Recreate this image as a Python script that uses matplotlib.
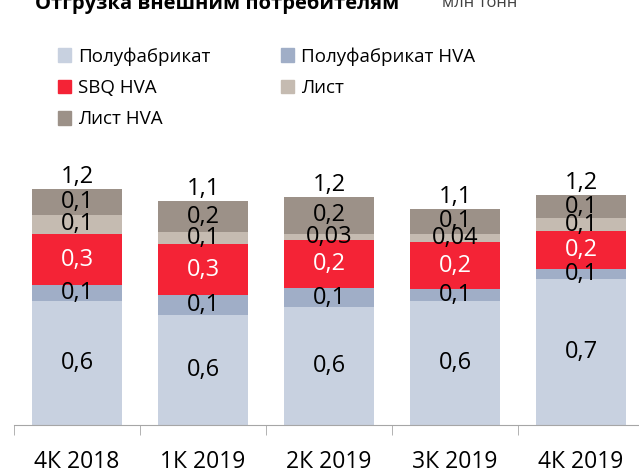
import numpy as np
import matplotlib
matplotlib.use("Agg")
import matplotlib.pyplot as plt
from matplotlib.patches import Patch

plt.rcParams['font.family'] = ['Open Sans', 'DejaVu Sans']

categories = ['4К 2018', '1К 2019', '2К 2019', '3К 2019', '4К 2019']
series_names = ['Полуфабрикат', 'Полуфабрикат HVA', 'SBQ HVA', 'Лист', 'Лист HVA']
polufabrikat = [0.63, 0.56, 0.60, 0.63, 0.74]
polufabrikat_hva = [0.08, 0.10, 0.096, 0.06, 0.055]
sbq_hva = [0.26, 0.26, 0.245, 0.24, 0.19]
list_ = [0.10, 0.06, 0.03, 0.04, 0.066]
list_hva = [0.13, 0.16, 0.19, 0.13, 0.12]

colors = ['#C8D1E0', '#A0AEC7', '#F42336', '#C5BBB1', '#9C9188']
label_colors = ['black', 'black', 'white', 'black', 'black']

def fmt(v):
    s = '%.2f' % v if v < 0.05 else '%.1f' % v
    return s.replace('.', ',')

fig = plt.figure(figsize=(6.39, 4.68), dpi=100)
ax = fig.add_axes([14 / 639, 43 / 468, 1 - 14 / 639, 295 / 468])

data = [polufabrikat, polufabrikat_hva, sbq_hva, list_, list_hva]
x = np.arange(len(categories))
bottom = np.zeros(len(categories))
handles = []
for vals, name, c, lc in zip(data, series_names, colors, label_colors):
    vals = np.array(vals)
    ax.bar(x, vals, 0.71, bottom=bottom, color=c, label=name)
    for xi, b, v in zip(x, bottom, vals):
        ax.text(xi, b + v / 2, fmt(v), ha='center', va='center', fontsize=17, color=lc)
    bottom += vals
    handles.append(Patch(color=c, label=name))

for xi, t in zip(x, bottom):
    ax.annotate(fmt(t), (xi, t), xytext=(0, 0), textcoords='offset points',
                ha='center', va='bottom', fontsize=17)

ax.set_xlim(-0.5, 4.46)
ax.set_ylim(0, 1.5)
ax.set_yticks([])
for s in ['top', 'right', 'left']:
    ax.spines[s].set_visible(False)
ax.spines['bottom'].set_color('#A6A6A6')
ax.set_xticks(x)
ax.set_xticklabels(categories, fontsize=16.5)
ax.tick_params(axis='x', which='major', length=0, pad=18)
ax.set_xticks(np.arange(-0.5, 4.5, 1), minor=True)
ax.tick_params(axis='x', which='minor', length=7, color='#A6A6A6', direction='out')

leg_kw = dict(frameon=False, fontsize=13.5, handlelength=0.7, handleheight=0.7,
              handletextpad=0.35, labelspacing=0.72, borderaxespad=0, borderpad=0)
fig.legend(handles=[handles[0], handles[2], handles[4]], loc='upper left',
           bbox_to_anchor=(58 / 639, 1 - 47 / 468), **leg_kw)
fig.legend(handles=[handles[1], handles[3]], loc='upper left',
           bbox_to_anchor=(281 / 639, 1 - 47 / 468), **leg_kw)

fig.text(35 / 639, 1 - 9 / 468, 'Отгрузка внешним потребителям', fontsize=14.5,
         fontweight='bold', va='baseline', ha='left')
fig.text(442 / 639, 1 - 7 / 468, 'млн тонн', fontsize=12, va='baseline', ha='left',
         color='#404040')

fig.savefig('out.png', dpi=100)
